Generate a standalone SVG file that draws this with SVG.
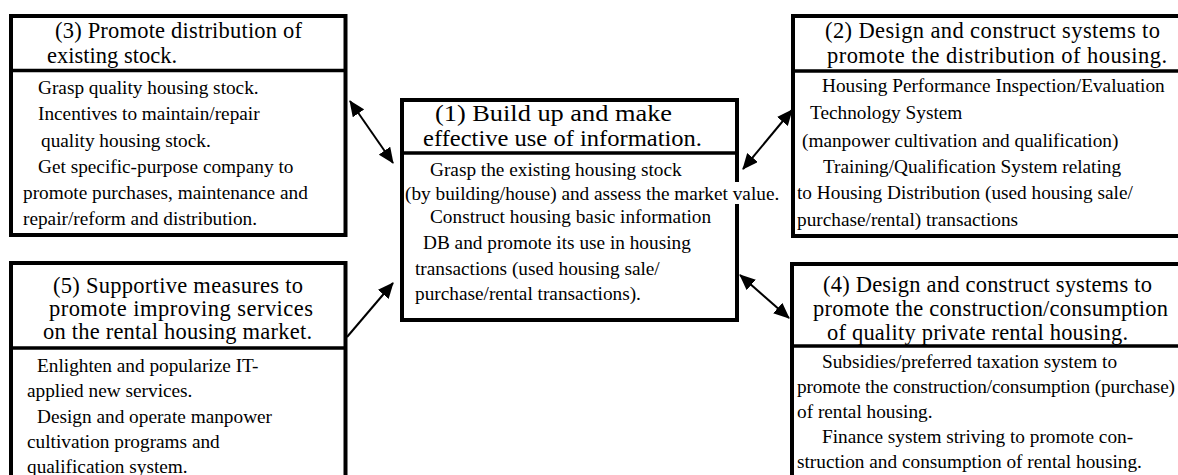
<svg xmlns="http://www.w3.org/2000/svg" width="1178" height="475" viewBox="0 0 1178 475">
  <style>
    .frame { fill: #fff; stroke: #000; stroke-width: 4; }
    .rule { stroke: #000; stroke-width: 3.5; }
    .h { font-family: "Liberation Serif", "Times New Roman", serif; font-size: 22.5px; fill: #000; }
    .h1 { font-size: 24px; }
    .b { font-family: "Liberation Serif", "Times New Roman", serif; font-size: 19.3px; fill: #000; }
    .link { stroke: #000; stroke-width: 2; fill: none; }
  </style>
  <defs>
    <marker id="head" viewBox="0 0 16 14" refX="15" refY="7" markerWidth="16" markerHeight="14" markerUnits="userSpaceOnUse" orient="auto-start-reverse">
      <path d="M0,0 L16,7 L0,14 Z" fill="#000"/>
    </marker>
  </defs>
  <rect width="1178" height="475" fill="#fff"/>

  <!-- (3) existing stock -->
  <g id="node3">
    <rect class="frame" x="11" y="16" width="334.5" height="219"/>
    <line class="rule" x1="11" y1="70.5" x2="345.5" y2="70.5"/>
    <text class="h" x="55" y="38" textLength="247">(3) Promote distribution of</text>
    <text class="h" x="47" y="63" textLength="130">existing stock.</text>
    <text class="b" x="38" y="94">Grasp quality housing stock.</text>
    <text class="b" x="38" y="120">Incentives to maintain/repair</text>
    <text class="b" x="41" y="147">quality housing stock.</text>
    <text class="b" x="38" y="173">Get specific-purpose company to</text>
    <text class="b" x="23" y="199">promote purchases, maintenance and</text>
    <text class="b" x="23" y="225">repair/reform and distribution.</text>
  </g>

  <!-- (5) rental housing services -->
  <g id="node5">
    <rect class="frame" x="11" y="263" width="334.5" height="230"/>
    <line class="rule" x1="11" y1="348" x2="345.5" y2="348"/>
    <text class="h" x="53" y="293" textLength="250">(5) Supportive measures to</text>
    <text class="h" x="49" y="316" textLength="264">promote improving  services</text>
    <text class="h" x="43" y="339" textLength="269">on the rental housing market.</text>
    <text class="b" x="37" y="372">Enlighten and popularize IT-</text>
    <text class="b" x="27" y="397">applied new services.</text>
    <text class="b" x="37" y="423">Design and operate manpower</text>
    <text class="b" x="27" y="448">cultivation programs and</text>
    <text class="b" x="27" y="473">qualification system.</text>
  </g>

  <!-- (1) information -->
  <g id="node1">
    <rect class="frame" x="402" y="100" width="335" height="220"/>
    <line class="rule" x1="402" y1="153" x2="737" y2="153"/>
    <text class="h h1" x="435" y="121" textLength="237" lengthAdjust="spacingAndGlyphs">(1) Build up and make</text>
    <text class="h h1" x="423" y="146" textLength="279" lengthAdjust="spacingAndGlyphs">effective use of information.</text>
    <text class="b" x="430" y="176">Grasp the existing housing stock</text>
    <rect x="405" y="182" width="381" height="22" fill="#fff"/>
    <text class="b" x="405" y="200">(by building/house) and assess the market value.</text>
    <text class="b" x="430" y="223">Construct housing basic information</text>
    <text class="b" x="423" y="249">DB and promote its use in housing</text>
    <text class="b" x="415" y="275">transactions (used housing sale/</text>
    <text class="b" x="415" y="300">purchase/rental transactions).</text>
  </g>

  <!-- (2) distribution systems -->
  <g id="node2">
    <rect class="frame" x="793" y="16" width="395" height="220"/>
    <line class="rule" x1="793" y1="71" x2="1188" y2="71"/>
    <text class="h" x="825" y="38" textLength="335">(2) Design and construct systems to</text>
    <text class="h" x="827" y="63" textLength="340">promote the distribution of housing.</text>
    <text class="b" x="822" y="92">Housing Performance Inspection/Evaluation</text>
    <text class="b" x="810" y="119">Technology System</text>
    <text class="b" x="802" y="147">(manpower cultivation and qualification)</text>
    <text class="b" x="823" y="173">Training/Qualification System relating</text>
    <text class="b" x="797" y="199">to Housing Distribution (used housing sale/</text>
    <text class="b" x="797" y="226">purchase/rental) transactions</text>
  </g>

  <!-- (4) private rental housing -->
  <g id="node4">
    <rect class="frame" x="792" y="264" width="396" height="230"/>
    <line class="rule" x1="792" y1="346" x2="1188" y2="346"/>
    <text class="h" x="823" y="292" textLength="329">(4) Design and construct systems to</text>
    <text class="h" x="813" y="316" textLength="355">promote the construction/consumption</text>
    <text class="h" x="827" y="340" textLength="301">of quality private rental housing.</text>
    <text class="b" x="822" y="368">Subsidies/preferred taxation system to</text>
    <text class="b" x="797" y="393" textLength="378">promote the construction/consumption (purchase)</text>
    <text class="b" x="797" y="418">of rental housing.</text>
    <text class="b" x="822" y="443">Finance system striving to promote con-</text>
    <text class="b" x="797" y="468">struction and consumption of rental housing.</text>
  </g>

  <g id="connectors">
    <line class="link" x1="350" y1="101" x2="393" y2="163" marker-start="url(#head)" marker-end="url(#head)"/>
    <line class="link" x1="347" y1="337" x2="393" y2="283" marker-end="url(#head)"/>
    <line class="link" x1="743" y1="169" x2="792" y2="110" marker-start="url(#head)" marker-end="url(#head)"/>
    <line class="link" x1="740" y1="275" x2="789" y2="318" marker-start="url(#head)" marker-end="url(#head)"/>
  </g>
</svg>
